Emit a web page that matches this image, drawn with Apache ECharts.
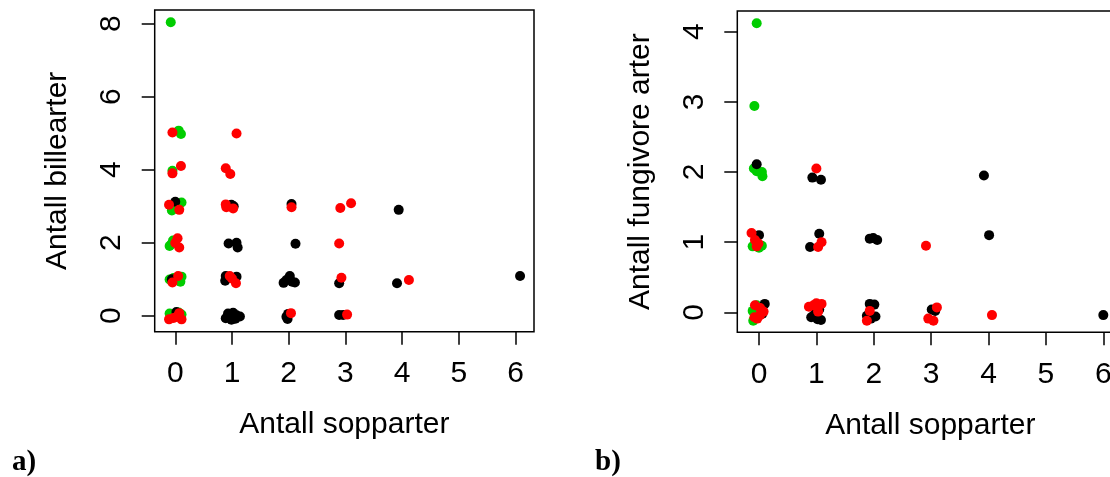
<!DOCTYPE html>
<html>
<head>
<meta charset="utf-8">
<script src="https://cdn.jsdelivr.net/npm/echarts@6/dist/echarts.min.js"></script>
<style>
  html, body { margin: 0; padding: 0; background: #fff; }
  #chart { width: 1110px; height: 477px; }
</style>
</head>
<body>
<div id="chart"></div>
<script>
// Jittered counts: number of fungus species (x) vs beetle species (y), per plot type colour.
const billeGreen = [
  [-0.08, 8.04], [0.06, 5.07], [0.10, 4.98], [-0.05, 3.97], [0.11, 3.10], [-0.06, 2.88],
  [0.01, 2.98], [-0.10, 1.91], [-0.04, 2.06], [-0.07, 1.96], [-0.10, 0.99], [0.09, 0.93],
  [0.11, 1.07], [-0.03, 1.03], [-0.10, 0.06], [0.11, 0.03], [-0.03, -0.04], [0.06, 0.09]
];
const billeBlack = [
  [0.00, 3.12], [-0.06, 1.00], [0.02, 0.10],
  [0.99, 3.04], [1.03, 3.00], [0.94, 1.98], [1.08, 2.00], [1.10, 1.87], [0.89, 1.09],
  [0.88, 0.96], [1.08, 1.07], [0.89, -0.07], [0.93, 0.06], [1.08, 0.01], [1.14, -0.02],
  [0.99, -0.11], [1.02, 0.08], [0.95, -0.04], [1.06, -0.08],
  [2.05, 3.06], [2.12, 1.97], [1.91, 0.90], [2.02, 1.09], [2.11, 0.91], [1.96, 0.98],
  [2.06, 0.93], [1.96, -0.03], [1.99, 0.05], [1.98, -0.09],
  [2.89, 0.89], [2.89, 0.02], [2.96, 0.02],
  [3.94, 2.90], [3.91, 0.89],
  [6.08, 1.09]
];
const billeRed = [
  [-0.05, 5.02], [-0.05, 3.90], [0.10, 4.10], [-0.11, 3.04], [0.07, 2.90], [0.00, 1.99],
  [0.04, 2.12], [0.07, 1.87], [-0.05, 0.91], [0.05, 1.09], [-0.11, -0.10], [0.07, 0.07],
  [0.11, -0.10], [-0.03, -0.06], [0.03, -0.02],
  [1.08, 4.99], [0.89, 4.04], [0.97, 3.88], [0.89, 3.05], [0.90, 2.97], [1.02, 2.94],
  [0.96, 1.09], [1.07, 0.89], [1.00, 1.02],
  [2.05, 2.97], [2.04, 0.07],
  [2.91, 2.95], [3.10, 3.08], [2.89, 1.98], [2.93, 1.04], [3.03, 0.03],
  [4.12, 0.98]
];

// Jittered counts: number of fungus species (x) vs fungivorous species (y).
const fungGreen = [
  [-0.04, 4.12], [-0.08, 2.94], [-0.09, 2.05], [-0.04, 2.01], [0.05, 2.00], [0.06, 1.94],
  [-0.11, 0.94], [0.05, 0.95], [0.00, 0.92], [-0.11, 0.02], [-0.10, -0.12], [-0.04, 0.10],
  [0.06, 0.08]
];
const fungBlack = [
  [-0.04, 2.11], [0.00, 1.10], [0.10, 0.12], [0.06, -0.02],
  [0.93, 1.92], [1.08, 1.89], [1.05, 1.12], [0.89, 0.93], [0.98, 0.08], [0.91, -0.07],
  [1.08, -0.11], [0.96, -0.04], [1.05, 0.04], [1.02, -0.10],
  [1.93, 1.05], [2.06, 1.03], [1.99, 1.06], [1.93, 0.12], [2.01, 0.11], [1.88, -0.05],
  [2.03, -0.06], [1.95, -0.09],
  [3.07, 0.02], [3.01, 0.04],
  [3.92, 1.95], [4.01, 1.10],
  [6.00, -0.04]
];
const fungRed = [
  [-0.13, 1.13], [-0.07, 1.03], [-0.04, 0.94], [-0.01, 0.98], [-0.07, 0.10], [0.02, -0.04],
  [-0.03, -0.09], [0.08, 0.01], [0.02, 0.06], [-0.08, -0.07],
  [1.00, 2.05], [1.09, 1.00], [1.03, 0.93], [0.87, 0.08], [1.00, 0.13], [1.09, 0.12],
  [1.03, 0.01], [0.95, 0.10],
  [1.93, 0.02], [1.88, -0.12],
  [2.91, 0.95], [3.10, 0.07], [2.95, -0.09], [3.04, -0.12],
  [4.06, -0.04]
];

const xTicks = [0, 1, 2, 3, 4, 5, 6];
const billeTicks = [0, 2, 4, 6, 8];
const fungTicks = [0, 1, 2, 3, 4];

const xTitle = 'Antall sopparter';
const billeTitle = 'Antall billearter';
const fungTitle = 'Antall fungivore arter';
const panelTags = ['a)', 'b)'];

const FONT = '"Liberation Sans", Arial, Helvetica, sans-serif';
const GREEN = '#00cd00', BLACK = '#000000', RED = '#ff0000';

function xAxisFor(gridIndex, min, max) {
  return {
    gridIndex, type: 'value', min, max,
    axisLine: { show: false, onZero: false },
    splitLine: { show: false },
    axisTick: { show: true, length: 13, customValues: xTicks, lineStyle: { color: '#000', width: 1.5 } },
    axisLabel: { customValues: xTicks, margin: 27, fontSize: 30, color: '#000', fontFamily: FONT },
    name: xTitle, nameLocation: 'middle', nameGap: 78,
    nameTextStyle: { fontSize: 30, color: '#000', fontFamily: FONT }
  };
}
function yAxisFor(gridIndex, min, max, ticks, title) {
  return {
    gridIndex, type: 'value', min, max,
    axisLine: { show: false, onZero: false },
    splitLine: { show: false },
    axisTick: { show: true, length: 13, customValues: ticks, lineStyle: { color: '#000', width: 1.5 } },
    axisLabel: { customValues: ticks, rotate: 90, margin: 28, fontSize: 30, color: '#000', fontFamily: FONT },
    name: title, nameLocation: 'middle', nameGap: 82,
    nameTextStyle: { fontSize: 30, color: '#000', fontFamily: FONT }
  };
}
function pts(data, color, idx) {
  return {
    type: 'scatter', xAxisIndex: idx, yAxisIndex: idx, data,
    symbol: 'circle', symbolSize: 10, itemStyle: { color, opacity: 1 },
    emphasis: { disabled: true }, silent: true
  };
}

const chart = echarts.init(document.getElementById('chart'), null, { renderer: 'canvas' });
chart.setOption({
  animation: false,
  backgroundColor: '#fff',
  grid: [
    { left: 154.7, top: 10, width: 379.3, height: 321.7, outerBoundsMode: 'none', containLabel: false,
      show: true, borderColor: '#000', borderWidth: 1.5, backgroundColor: 'transparent' },
    { left: 737.3, top: 11, width: 386.2, height: 321.3, outerBoundsMode: 'none', containLabel: false,
      show: true, borderColor: '#000', borderWidth: 1.5, backgroundColor: 'transparent' }
  ],
  xAxis: [xAxisFor(0, -0.363, 6.326), xAxisFor(1, -0.378, 6.352)],
  yAxis: [yAxisFor(0, -0.438, 8.375, billeTicks, billeTitle), yAxisFor(1, -0.285, 4.295, fungTicks, fungTitle)],
  series: [
    pts(billeGreen, GREEN, 0), pts(billeBlack, BLACK, 0), pts(billeRed, RED, 0),
    pts(fungGreen, GREEN, 1), pts(fungBlack, BLACK, 1), pts(fungRed, RED, 1)
  ],
  graphic: [
    { type: 'text', left: 12, top: 448, style: { text: panelTags[0], font: 'bold 29px "Liberation Serif", "Times New Roman", serif', fill: '#000' } },
    { type: 'text', left: 595, top: 448, style: { text: panelTags[1], font: 'bold 29px "Liberation Serif", "Times New Roman", serif', fill: '#000' } }
  ]
});
</script>
</body>
</html>
